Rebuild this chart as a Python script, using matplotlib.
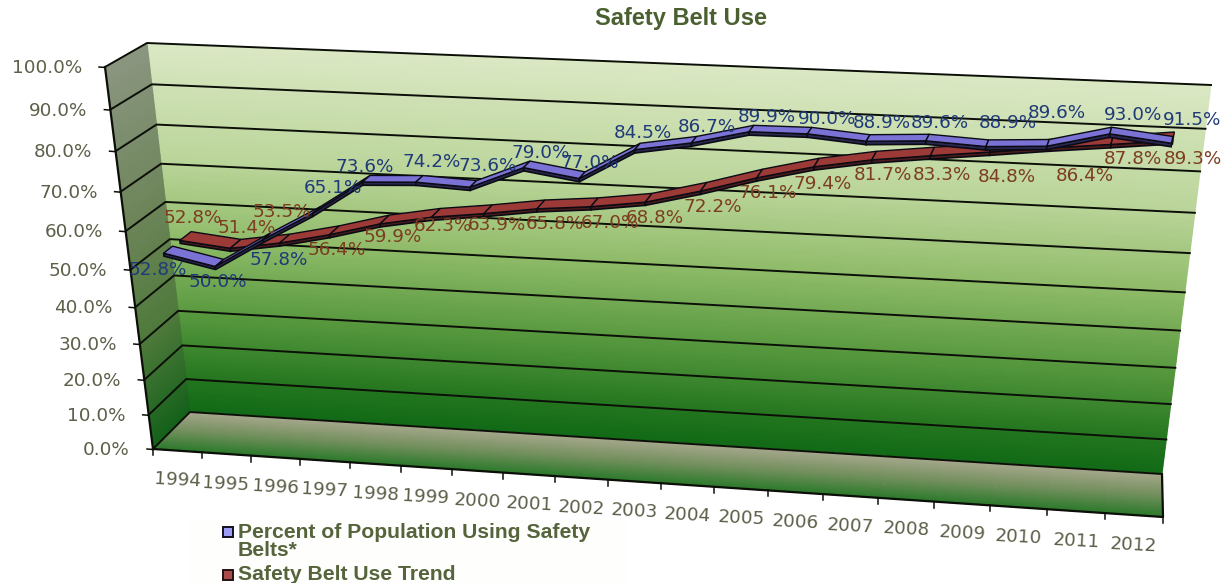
import numpy as np
import matplotlib
matplotlib.use("Agg")
import matplotlib.pyplot as plt
from matplotlib.colors import LinearSegmentedColormap
from matplotlib.patches import Polygon, Rectangle

plt.rcParams['font.family'] = ['Liberation Sans', 'DejaVu Sans']

years = list(range(1994, 2013))
belt_use = [52.8, 50.0, 57.8, 65.1, 73.6, 74.2, 73.6, 79.0, 77.0, 84.5,
            86.7, 89.9, 90.0, 88.9, 89.6, 88.9, 89.6, 93.0, 91.5]
belt_trend = [52.8, 51.4, 53.5, 56.4, 59.9, 62.3, 63.9, 65.8, 67.0, 68.8,
              72.2, 76.1, 79.4, 81.7, 83.3, 84.8, 86.4, 87.8, 89.3]
y_ticks = list(range(0, 101, 10))

# where the value labels sit on the picture (centres)
use_label_xy = [(158, 270), (218, 282), (279, 260), (333, 188), (365, 167), (432, 162),
                (488, 166), (541, 153), (590, 163), (643, 133), (707, 127), (767, 117),
                (827, 119), (882, 123), (940, 123), (1008, 123), (1057, 113), (1133, 115),
                (1192, 120)]
trend_label_xy = [(193, 218), (247, 228), (282, 212), (337, 250), (393, 237), (443, 226),
                  (497, 225), (555, 224), (610, 223), (655, 218), (713, 207), (768, 193),
                  (823, 184), (883, 175), (942, 175), (1007, 177), (1085, 176), (1133, 159),
                  (1193, 159)]

TEXT = '#5b6049'
BLUE_TXT = '#1f3a78'
RED_TXT = '#7c3d20'
NUM_FONT = dict(family='DejaVu Sans', fontsize=13.2)


def homography(c):
    # unit square -> the four corners (0,0) (1,0) (1,1) (0,1)
    src = [(0, 0), (1, 0), (1, 1), (0, 1)]
    A, b = [], []
    for (s, t), (x, y) in zip(src, c):
        A.append([s, t, 1, 0, 0, 0, -s * x, -t * x])
        A.append([0, 0, 0, s, t, 1, -s * y, -t * y])
        b += [x, y]
    return np.append(np.linalg.solve(np.array(A, float), np.array(b, float)), 1).reshape(3, 3)


H_back = homography([(190, 412), (1162, 474), (1211, 85), (147, 43)])
H_front = homography([(153, 449), (1163, 517), (1206, 113), (105, 67)])


def warp(t, r):
    return t / (r - (r - 1) * t)


def project(u, v, d):
    # u = category position 0..19, v = percent, d = depth 0 back .. 1 front
    u, v, d = np.asarray(u, float), np.asarray(v, float), np.asarray(d, float)
    s = warp(u / 19, 1.03)
    t = warp(v / 100, 1.04)
    p = np.stack([s, t, np.ones_like(s + t)])
    b = np.tensordot(H_back, p, axes=1)
    f = np.tensordot(H_front, p, axes=1)
    x = b[0] / b[2] * (1 - d) + f[0] / f[2] * d
    y = b[1] / b[2] * (1 - d) + f[1] / f[2] * d
    return x, y


fig = plt.figure(figsize=(12.31, 5.83), dpi=100)
ax = fig.add_axes([0, 0, 1, 1])
ax.set_xlim(0, 1231)
ax.set_ylim(583, 0)
ax.axis('off')

back_cmap = LinearSegmentedColormap.from_list('back', [
    (0.0, '#116a16'), (0.1, '#24761f'), (0.3, '#5a9a40'), (0.5, '#8fbb68'),
    (0.7, '#b9d498'), (1.0, '#dbe8c4')])
left_cmap = LinearSegmentedColormap.from_list('left', [
    (0.0, '#14611a'), (0.3, '#4f7a3c'), (0.6, '#6c8458'), (1.0, '#8b9680')])
floor_cmap = LinearSegmentedColormap.from_list('floor', [
    (0.0, '#2c7a2c'), (0.5, '#74905e'), (1.0, '#a8a88e')])

# back wall
uu, vv = np.meshgrid(np.linspace(0, 19, 20), np.linspace(0, 100, 80))
X, Y = project(uu, vv, 0 * uu)
ax.pcolormesh(X, Y, vv, cmap=back_cmap, shading='gouraud', zorder=1)

# left wall
dd, vv = np.meshgrid(np.linspace(0, 1, 12), np.linspace(0, 100, 80))
X, Y = project(0 * dd, vv, dd)
ax.pcolormesh(X, Y, vv, cmap=left_cmap, shading='gouraud', zorder=1)

# floor
uu, dd = np.meshgrid(np.linspace(0, 19, 20), np.linspace(0, 1, 40))
X, Y = project(uu, 0 * uu, dd)
ax.pcolormesh(X, Y, 1 - dd, cmap=floor_cmap, shading='gouraud', zorder=1)

# grid lines round the walls
for val in y_ticks:
    x, y = project([19, 0, 0], [val] * 3, [0, 0, 1])
    ax.plot(x, y, color='#0c0f08', lw=1.4, zorder=2)
    ax.plot([x[2] - 6, x[2]], [y[2], y[2] + 0.5], color='#0c0f08', lw=1.1, zorder=2)
    ax.text(x[2] - 23, y[2] + 1, f'{val:.1f}%', ha='right', va='center',
            color=TEXT, zorder=5, **NUM_FONT)

x, y = project([0, 0], [0, 100], [1, 1])
ax.plot(x, y, color='#0c0f08', lw=1.6, zorder=2)
x, y = project([0, 19, 19], [0, 0, 0], [1, 1, 0])
ax.plot(x, y, color='#0c0f08', lw=1.6, zorder=2)

# category ticks and labels
for i in range(20):
    x, y = project(i, 0, 1)
    ax.plot([x, x], [y, y + 6], color='#0c0f08', lw=1.1, zorder=2)
for i, yr in enumerate(years):
    x, y = project(i + 0.5, 0, 1)
    ax.text(x, y + 30, str(yr), ha='center', va='center', rotation=-3,
            color=TEXT, zorder=5, **NUM_FONT)


def ribbon(values, d_front, d_back, top, side):
    u = np.arange(len(values)) + 0.5
    v = np.array(values)
    for i in range(len(v) - 1):
        uu = u[i:i + 2]
        vv = v[i:i + 2]
        fx, fy = project(uu, vv, [d_front] * 2)
        bx, by = project(uu, vv, [d_back] * 2)
        lx, ly = project(uu, vv - 0.8, [d_front] * 2)
        ax.add_patch(Polygon(np.c_[np.r_[fx, lx[::-1]], np.r_[fy, ly[::-1]]],
                             fc=side, ec='#0b0b14', lw=1.2, zorder=3))
        ax.add_patch(Polygon(np.c_[np.r_[fx, bx[::-1]], np.r_[fy, by[::-1]]],
                             fc=top, ec='#0b0b14', lw=1.0, zorder=3))


ribbon(belt_trend, 0.34, 0.05, '#9c3a38', '#4a1c1c')
ribbon(belt_use, 0.76, 0.53, '#7b72d6', '#2a2850')

for val, (x, y) in zip(belt_use, use_label_xy):
    ax.text(x, y, f'{val:.1f}%', ha='center', va='center', color=BLUE_TXT, zorder=6, **NUM_FONT)
for val, (x, y) in zip(belt_trend, trend_label_xy):
    ax.text(x, y, f'{val:.1f}%', ha='center', va='center', color=RED_TXT, zorder=6, **NUM_FONT)

ax.text(681, 18, 'Safety Belt Use', ha='center', va='center', fontsize=17,
        fontweight='bold', color='#4a6030', zorder=6)

# legend
ax.add_patch(Rectangle((188, 520), 440, 63, fc='#fefefd', ec='none', zorder=4))
ax.add_patch(Rectangle((223, 527), 10, 10, fc='#9c9cf5', ec='#111122', lw=1.4, zorder=6))
ax.add_patch(Rectangle((223, 570), 10, 10, fc='#a84a4a', ec='#221111', lw=1.4, zorder=6))
legend_font = dict(ha='left', va='center', fontsize=15.2, fontweight='bold',
                   color='#56643c', zorder=6)
ax.text(238, 533, 'Percent of Population Using Safety', **legend_font)
ax.text(238, 551, 'Belts*', **legend_font)
ax.text(238, 575, 'Safety Belt Use Trend', **legend_font)

fig.savefig('out.png', dpi=100)
